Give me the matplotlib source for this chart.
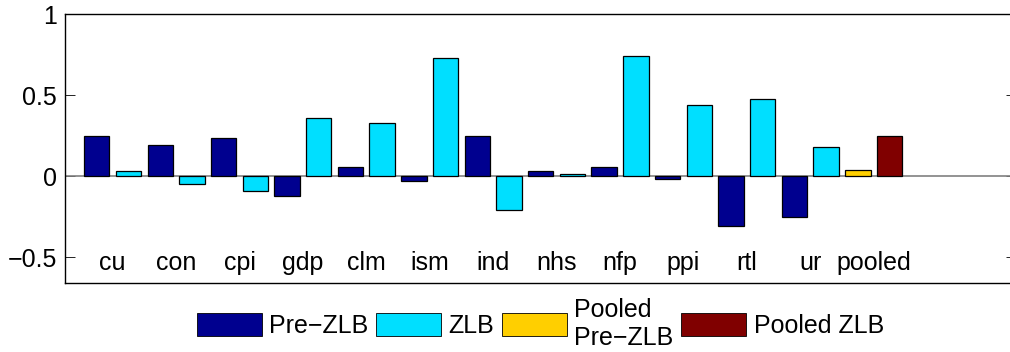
import numpy as np
import matplotlib
matplotlib.use('Agg')
import matplotlib.pyplot as plt
from matplotlib.patches import Patch

# data
categories = ['cu', 'con', 'cpi', 'gdp', 'clm', 'ism', 'ind', 'nhs', 'nfp', 'ppi', 'rtl', 'ur']
pre_zlb = [0.25, 0.193, 0.233, -0.12, 0.054, -0.031, 0.249, 0.033, 0.054, -0.019, -0.31, -0.253]
zlb = [0.033, -0.05, -0.09, 0.36, 0.33, 0.73, -0.21, 0.014, 0.74, 0.44, 0.477, 0.181]
pooled_pre = 0.039
pooled_zlb = 0.249

c_pre = '#00008F'
c_zlb = '#00DFFF'
c_ppre = '#FFCF00'
c_pzlb = '#800000'

plt.rcParams['font.family'] = ['Liberation Sans', 'DejaVu Sans']
plt.rcParams['font.size'] = 18

fig = plt.figure(figsize=(10.1, 3.52), dpi=100)
ax = fig.add_axes([0.0644, 0.196, 0.942, 0.764])

n = len(categories)
x_pre = np.arange(n) * 2 + 1
x_zlb = x_pre + 1
bw = 0.8
ax.bar(x_pre, pre_zlb, bw, color=c_pre, edgecolor='black', linewidth=0.9, zorder=3)
ax.bar(x_zlb, zlb, bw, color=c_zlb, edgecolor='black', linewidth=0.9, zorder=3)
ax.bar([2 * n + 1], [pooled_pre], bw, color=c_ppre, edgecolor='black', linewidth=0.9, zorder=3)
ax.bar([2 * n + 2], [pooled_zlb], bw, color=c_pzlb, edgecolor='black', linewidth=0.9, zorder=3)

ax.axhline(0, color='#808080', linewidth=1.2, zorder=2)

labels = categories + ['pooled']
for i, lab in enumerate(labels):
    ax.text(2 * i + 1.5, -0.535, lab, ha='center', va='center')

ax.set_xlim(0, 30)
ax.set_ylim(-0.66, 1)
ax.set_xticks([])
ax.set_yticks([-0.5, 0, 0.5, 1])
ax.set_yticklabels(['\u22120.5', '0', '0.5', '1'])
ax.tick_params(axis='y', direction='in', length=7, width=0.6, right=True, pad=6)
for s in ax.spines.values():
    s.set_linewidth(1.0)

handles = [Patch(facecolor=c_pre, edgecolor='black', linewidth=0.6),
           Patch(facecolor=c_zlb, edgecolor='black', linewidth=0.6),
           Patch(facecolor=c_ppre, edgecolor='black', linewidth=0.6),
           Patch(facecolor=c_pzlb, edgecolor='black', linewidth=0.6)]
names = ['Pre\u2212ZLB', 'ZLB', 'Pooled\nPre\u2212ZLB', 'Pooled ZLB']
fig.legend(handles, names, loc='center', bbox_to_anchor=(0.535, 0.08), ncol=4,
           frameon=False, handlelength=2.6, handleheight=1.05, handletextpad=0.3,
           columnspacing=0.3, borderpad=0, labelspacing=0)

fig.savefig('out.png', dpi=100)
